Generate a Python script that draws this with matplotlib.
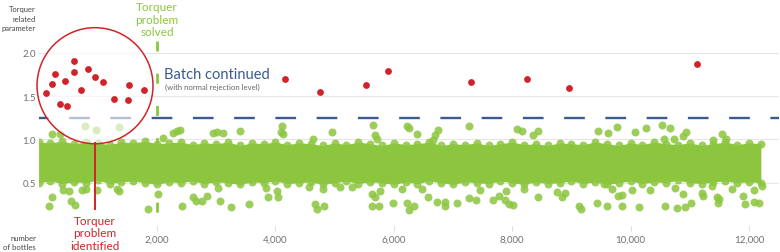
import matplotlib
matplotlib.use("Agg")
import matplotlib.pyplot as plt
from matplotlib.patches import Ellipse

plt.rcParams['font.family'] = ['Lato', 'DejaVu Sans']
plt.rcParams['lines.scale_dashes'] = False

# --- data ----------------------------------------------------------------
# red points: torquer problem readings (bottles, parameter)
red_x = [130, 231, 282, 356, 451, 480, 598, 598, 721, 840, 948, 1083, 1279,
         1522, 1515, 1780, 4162, 4753, 5530, 5897, 7299, 8250, 8959, 11122]
red_y = [1.53, 1.64, 1.75, 1.41, 1.67, 1.38, 1.90, 1.78, 1.57, 1.81, 1.72,
         1.66, 1.47, 1.63, 1.45, 1.57, 1.70, 1.55, 1.63, 1.79, 1.66, 1.70,
         1.59, 1.87]

# dense green band: upper / lower edge of the cloud every 200 bottles
band_x = list(range(0, 12201, 200))
band_hi = [0.97, 0.96, 0.98, 0.95, 0.97, 0.96, 0.94, 0.97, 0.96, 0.98, 0.95,
           0.96, 0.97, 0.94, 0.96, 0.95, 0.97, 0.93, 0.96, 0.95, 0.97, 0.94,
           0.96, 0.95, 0.93, 0.96, 0.94, 0.97, 0.95, 0.93, 0.96, 0.94, 0.95,
           0.97, 0.93, 0.95, 0.94, 0.96, 0.93, 0.95, 0.97, 0.94, 0.95, 0.93,
           0.96, 0.95, 0.94, 0.97, 0.95, 0.93, 0.96, 0.94, 0.97, 0.95, 0.94,
           0.96, 0.93, 0.95, 0.97, 0.94, 0.96, 0.95]
band_lo = [0.50, 0.52, 0.49, 0.51, 0.50, 0.53, 0.49, 0.51, 0.52, 0.50, 0.48,
           0.51, 0.50, 0.52, 0.49, 0.51, 0.50, 0.48, 0.51, 0.50, 0.52, 0.49,
           0.50, 0.51, 0.48, 0.50, 0.52, 0.49, 0.51, 0.50, 0.48, 0.51, 0.49,
           0.52, 0.50, 0.48, 0.51, 0.50, 0.49, 0.52, 0.50, 0.48, 0.51, 0.49,
           0.50, 0.52, 0.49, 0.51, 0.48, 0.50, 0.52, 0.49, 0.51, 0.50, 0.53,
           0.50, 0.49, 0.51, 0.52, 0.50, 0.51, 0.50]

# scattered green points above the band
up_x = [231, 361, 784, 969, 1358, 2106, 2275, 2332, 2388, 2941, 3008, 3120,
        3402, 4089, 4116, 4123, 4640, 4950, 5643, 5682, 5721, 6231, 6261,
        6386, 6656, 6695, 6741, 7275, 8085, 8170, 8355, 8440, 9453, 9622,
        9774, 10073, 10259, 10529, 10563, 10664, 10732, 10889, 10934, 11396,
        11548, 11610]
up_y = [1.06, 1.06, 1.15, 1.11, 1.14, 1.02, 1.07, 1.10, 1.11, 1.07, 1.08,
        1.07, 1.10, 1.09, 1.16, 1.06, 1.01, 1.09, 1.17, 1.05, 1.00, 1.15,
        1.13, 1.06, 0.99, 1.05, 1.11, 1.16, 1.12, 1.10, 1.05, 1.10, 1.10,
        1.07, 1.14, 1.08, 1.13, 1.17, 1.00, 1.13, 1.01, 1.04, 1.09, 0.99,
        1.06, 1.01]

# scattered green points below the band
low_x = [176, 231, 417, 508, 547, 623, 728, 796, 981, 1319, 1350, 1853, 2022,
         2430, 2616, 2658, 2760, 2839, 3025, 3069, 3245, 3557, 3841, 3883,
         4032, 4049, 4572, 4668, 4702, 4812, 4824, 5091, 5288, 5626, 5634,
         5682, 5758, 5766, 5986, 6133, 6222, 6256, 6346, 6471, 6582, 6729,
         6864, 6864, 7067, 7269, 7396, 7455, 7683, 7781, 7889, 7877, 7945,
         8013, 8198, 8440, 8751, 8835, 8891, 9127, 9170, 9440, 9550, 9605,
         9680, 9791, 9849, 9854, 10028, 10141, 10327, 10588, 10749, 10783,
         10918, 11027, 10889, 11200, 11227, 11379, 11453, 11475, 11500, 11706,
         11892, 11931, 12088, 12083, 12168, 12213]
low_y = [0.23, 0.34, 0.41, 0.40, 0.29, 0.24, 0.41, 0.43, 0.42, 0.43, 0.40,
         0.20, 0.37, 0.23, 0.33, 0.29, 0.29, 0.35, 0.44, 0.29, 0.22, 0.25,
         0.44, 0.34, 0.40, 0.33, 0.45, 0.25, 0.20, 0.43, 0.23, 0.45, 0.45,
         0.37, 0.23, 0.34, 0.23, 0.40, 0.27, 0.43, 0.27, 0.19, 0.23, 0.43,
         0.33, 0.28, 0.28, 0.23, 0.26, 0.32, 0.30, 0.41, 0.30, 0.35, 0.40,
         0.30, 0.25, 0.24, 0.43, 0.34, 0.39, 0.33, 0.38, 0.23, 0.20, 0.27,
         0.49, 0.23, 0.43, 0.35, 0.36, 0.23, 0.41, 0.22, 0.41, 0.23, 0.44,
         0.21, 0.22, 0.27, 0.37, 0.38, 0.35, 0.46, 0.33, 0.27, 0.31, 0.43,
         0.35, 0.25, 0.41, 0.28, 0.27, 0.46]

threshold = 1.25
solved_at = 2000
x_ticks = [2000, 4000, 6000, 8000, 10000, 12000]
x_labels = ['2,000', '4,000', '6,000', '8,000', '10,000', '12,000']
y_ticks = [0.5, 1.0, 1.5, 2.0]

GREEN = '#8cc63f'
RED = '#d2232a'
BLUE = '#3b5b8f'
W, H = 780, 253


def fx(px):
    return px / W


def fy(py):
    return 1 - py / H


fig = plt.figure(figsize=(7.8, 2.53), dpi=100)
ax = fig.add_axes([fx(38.6), fy(227), 740 / W, 186.2 / H])
ax.set_xlim(0, 12500)
ax.set_ylim(0, 2.15)
for s in ax.spines.values():
    s.set_visible(False)

for v in [0] + y_ticks:
    ax.axhline(v, color='#e6e6e6', lw=0.8, zorder=0)

ax.set_xticks(x_ticks)
ax.set_xticklabels(x_labels)
ax.set_yticks(y_ticks)
ax.set_yticklabels(['0.5', '1.0', '1.5', '2.0'])
ax.tick_params(axis='x', length=3.5, width=0.8, color='#dddddd', pad=3,
               labelsize=7, labelcolor='#707070')
ax.tick_params(axis='y', length=0, pad=2, labelsize=7, labelcolor='#707070')

# problem solved marker
ax.plot([solved_at, solved_at], [2.14, 0], color=GREEN, lw=2,
        linestyle=(0, (7.2, 16)), zorder=1, clip_on=False)

# green cloud
ax.fill_between(band_x, band_lo, band_hi, color=GREEN, lw=0, zorder=2)
ms = 33
ax.scatter(band_x, band_hi, s=ms, color=GREEN, alpha=0.85, lw=0, zorder=3)
ax.scatter(band_x, band_lo, s=ms, color=GREEN, alpha=0.85, lw=0, zorder=3)
ax.scatter(up_x, up_y, s=ms, color=GREEN, alpha=0.85, lw=0, zorder=3)
ax.scatter(low_x, low_y, s=ms, color=GREEN, alpha=0.85, lw=0, zorder=3)

# normal rejection level
ax.axhline(threshold, color=BLUE, lw=1.7, linestyle=(8, (14.9, 14.8)),
           zorder=4)

# highlight circle around the problem readings
circ_fill = Ellipse((953, 1.62), 1959, 1.34, facecolor='white', alpha=0.62,
                    edgecolor='none', zorder=5, clip_on=False)
ax.add_patch(circ_fill)
circ = Ellipse((953, 1.62), 1959, 1.34, facecolor='none', edgecolor=RED,
               lw=1.1, zorder=6, clip_on=False)
ax.add_patch(circ)
ax.plot([953, 953], [0.955, 0.196], color=RED, lw=1.4, zorder=6,
        clip_on=False)

ax.scatter(red_x, red_y, s=24, color=RED, lw=0, zorder=7)

# annotations
fig.text(fx(157), fy(20), 'Torquer\nproblem\nsolved', color=GREEN,
         fontsize=8.5, ha='center', va='center', linespacing=1.15)
fig.text(fx(95), fy(234), 'Torquer\nproblem\nidentified', color=RED,
         fontsize=8.5, ha='center', va='center', linespacing=1.15)
fig.text(fx(164), fy(75), 'Batch continued', color=BLUE, fontsize=10.5,
         ha='left', va='center')
fig.text(fx(165), fy(87.5), '(with normal rejection level)', color='#666666',
         fontsize=5.6, ha='left', va='center')
fig.text(fx(36), fy(19), 'Torquer\nrelated\nparameter', color='#444444',
         fontsize=5.4, ha='right', va='center', linespacing=1.45)
fig.text(fx(36), fy(243), 'number\nof bottles', color='#444444',
         fontsize=5.6, ha='right', va='center', linespacing=1.4)

fig.savefig('out.png', dpi=100)
